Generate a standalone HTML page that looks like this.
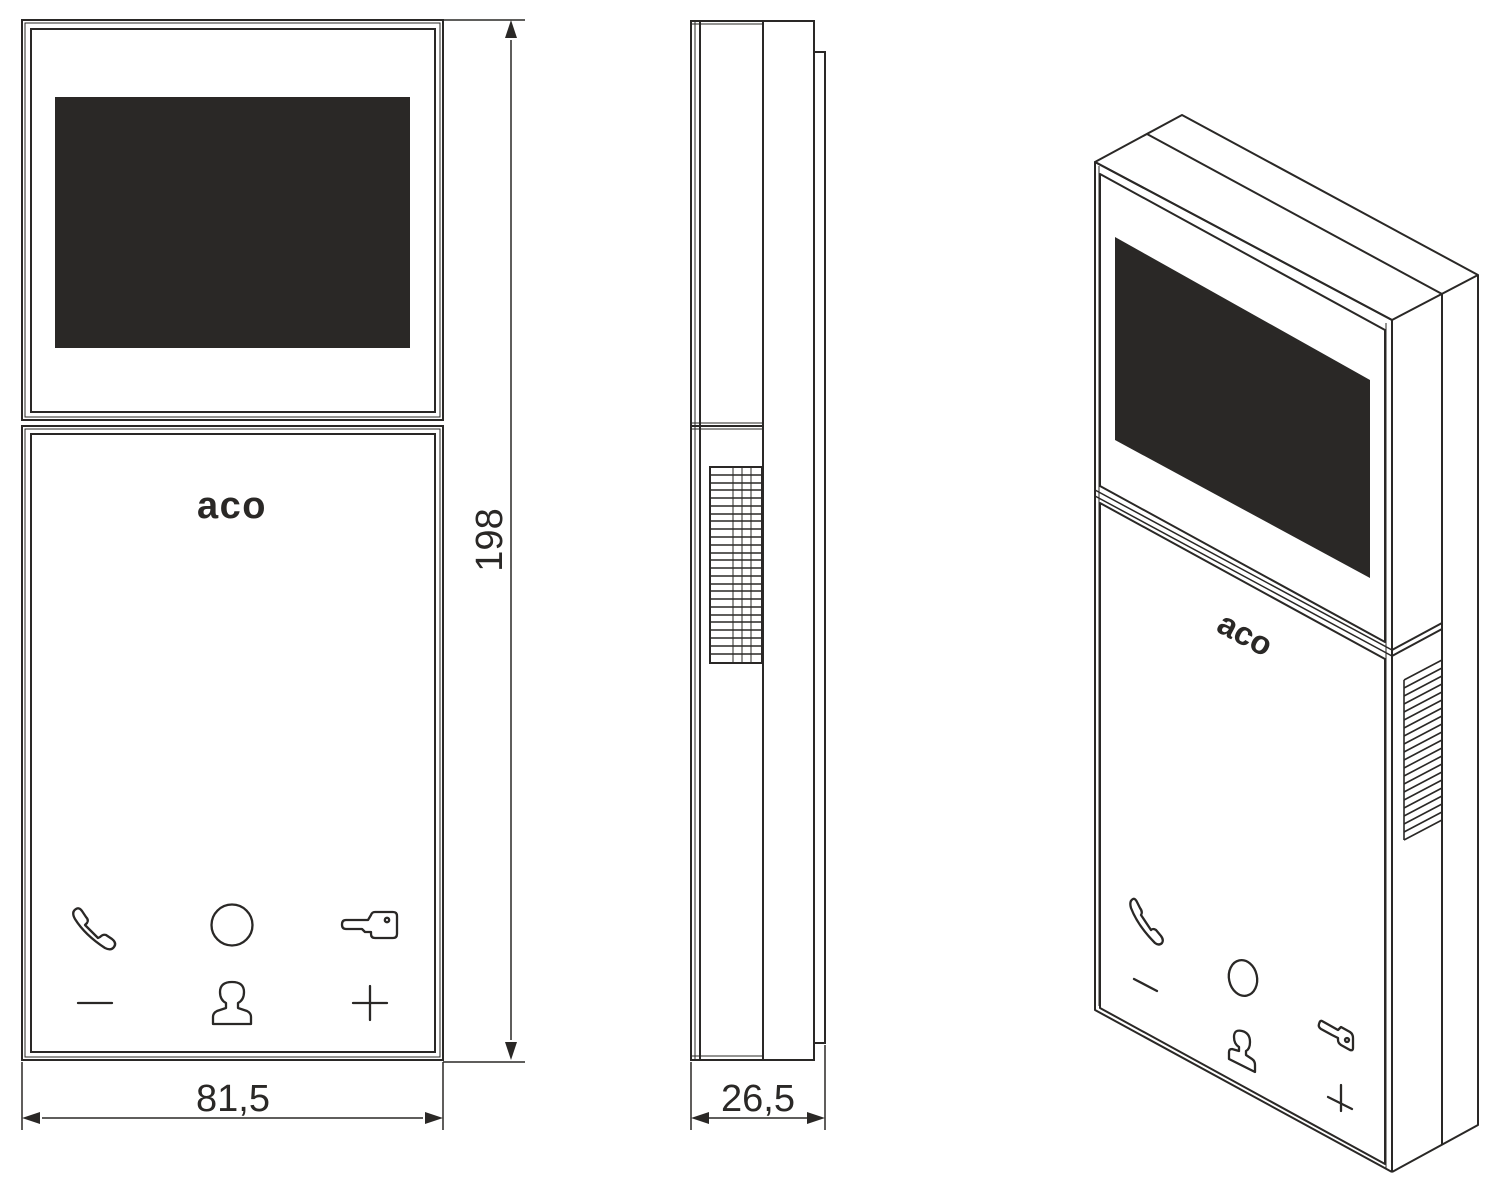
<!DOCTYPE html>
<html><head><meta charset="utf-8"><style>
html,body{margin:0;padding:0;background:#fff;}
svg{display:block;}
text{font-family:"Liberation Sans",Arial,sans-serif;fill:#2a2826;}
</style></head><body>
<svg width="1500" height="1194" viewBox="0 0 1500 1194" xmlns="http://www.w3.org/2000/svg">
<g fill="none" stroke="#2a2826" stroke-width="2">
<!-- FRONT VIEW -->
<rect x="22" y="20" width="421" height="400"/>
<rect x="25" y="23" width="415" height="394" stroke-width="1"/>
<rect x="31" y="29" width="404" height="383"/>
<rect x="22" y="426" width="421" height="634"/>
<rect x="25" y="429" width="415" height="628" stroke-width="1"/>
<rect x="31" y="434" width="404" height="618"/>
</g>
<rect x="55" y="97" width="355" height="251" fill="#2a2826"/>
<text x="232" y="518" font-size="38" font-weight="bold" text-anchor="middle" letter-spacing="1.5">aco</text>
<g fill="none" stroke="#2a2826" stroke-width="2.3" stroke-linecap="round" stroke-linejoin="round">
<path d="M76,909 q-5,3 -1,10 q10,16 30,29 q6,3 9,-1 q3,-4 -2,-8 l-6,-4 q-3,-1 -6,2 l-2,1 l-13,-13 l2,-2 q2,-3 -1,-6 l-4,-6 q-3,-4 -6,-2z"/>
<circle cx="232" cy="925" r="20.5"/>
<path d="M346,920 h22 l3,-5 q1,-3 4,-3 h18 q4,0 4,4 v18 q0,4 -4,4 h-18 q-4,0 -4,-4 v-2 h-6 l-3,-3 h-16 q-4,0 -4,-4.5 q0,-4.5 4,-4.5z"/>
<circle cx="387" cy="920" r="2.2"/>
<line x1="78" y1="1003" x2="112" y2="1003"/>
<path d="M213,1024 v-7 q0,-4 4,-6 l9,-3 v-5 q-6,-3 -6,-11 q0,-10 12,-10 q12,0 12,10 q0,8 -6,11 v5 l9,3 q4,2 4,6 v7 z"/>
<line x1="353" y1="1003" x2="387" y2="1003"/>
<line x1="370" y1="986" x2="370" y2="1020"/>
</g>
<g stroke="#2a2826" stroke-width="1.5" fill="none">
<line x1="443" y1="20" x2="525" y2="20"/>
<line x1="443" y1="1062" x2="525" y2="1062"/>
<line x1="511" y1="40" x2="511" y2="1040"/>
<line x1="22" y1="1062" x2="22" y2="1130"/>
<line x1="443" y1="1062" x2="443" y2="1130"/>
<line x1="42" y1="1118" x2="423" y2="1118"/>
</g>
<path d="M511,20 L505,38 L517,38Z M511,1060 L505,1042 L517,1042Z M22,1118 L40,1112 L40,1124Z M443,1118 L425,1112 L425,1124Z" fill="#2a2826"/>
<text x="0" y="0" font-size="38" text-anchor="middle" transform="translate(502,540) rotate(-90)">198</text>
<text x="233" y="1111" font-size="38" text-anchor="middle">81,5</text>

<!-- SIDE VIEW -->
<g fill="none" stroke="#2a2826" stroke-width="2">
<rect x="691" y="21" width="123" height="1039"/>
<line x1="695" y1="21" x2="695" y2="1060" stroke-width="1"/>
<line x1="700" y1="21" x2="700" y2="1060"/>
<line x1="763" y1="21" x2="763" y2="1060"/>
<line x1="691" y1="24" x2="763" y2="24" stroke-width="1"/>
<polyline points="814,52 825,52 825,1043 814,1043"/>
<line x1="691" y1="423" x2="763" y2="423" stroke-width="1"/>
<line x1="691" y1="426" x2="763" y2="426"/>
<line x1="691" y1="429" x2="763" y2="429" stroke-width="1"/>
<line x1="691" y1="1056" x2="763" y2="1056" stroke-width="1"/>
<rect x="710" y="467" width="52" height="196"/>
</g>
<g stroke="#2a2826" stroke-width="1.6">
<line x1="710" y1="475" x2="762" y2="475"/><line x1="710" y1="483" x2="762" y2="483"/>
<line x1="710" y1="490" x2="762" y2="490"/><line x1="710" y1="498" x2="762" y2="498"/>
<line x1="710" y1="506" x2="762" y2="506"/><line x1="710" y1="514" x2="762" y2="514"/>
<line x1="710" y1="521" x2="762" y2="521"/><line x1="710" y1="529" x2="762" y2="529"/>
<line x1="710" y1="537" x2="762" y2="537"/><line x1="710" y1="545" x2="762" y2="545"/>
<line x1="710" y1="553" x2="762" y2="553"/><line x1="710" y1="560" x2="762" y2="560"/>
<line x1="710" y1="568" x2="762" y2="568"/><line x1="710" y1="576" x2="762" y2="576"/>
<line x1="710" y1="584" x2="762" y2="584"/><line x1="710" y1="591" x2="762" y2="591"/>
<line x1="710" y1="599" x2="762" y2="599"/><line x1="710" y1="607" x2="762" y2="607"/>
<line x1="710" y1="615" x2="762" y2="615"/><line x1="710" y1="622" x2="762" y2="622"/>
<line x1="710" y1="630" x2="762" y2="630"/><line x1="710" y1="638" x2="762" y2="638"/>
<line x1="710" y1="646" x2="762" y2="646"/><line x1="710" y1="654" x2="762" y2="654"/>
<line x1="733" y1="467" x2="733" y2="663" stroke-width="1"/>
<line x1="742" y1="467" x2="742" y2="663" stroke-width="1"/>
<line x1="751" y1="467" x2="751" y2="663" stroke-width="1"/>
</g>
<g stroke="#2a2826" stroke-width="1.5" fill="none">
<line x1="691" y1="1062" x2="691" y2="1130"/>
<line x1="825" y1="1045" x2="825" y2="1130"/>
<line x1="709" y1="1118" x2="807" y2="1118"/>
</g>
<path d="M691,1118 L709,1112 L709,1124Z M825,1118 L807,1112 L807,1124Z" fill="#2a2826"/>
<text x="758" y="1111" font-size="38" text-anchor="middle">26,5</text>

<!-- ISO VIEW -->
<g fill="none" stroke="#2a2826" stroke-width="2" stroke-linejoin="round">
<polygon points="1095,162 1182,115 1478,275 1392,320"/>
<line x1="1147" y1="134" x2="1442" y2="294"/>
<polyline points="1478,275 1478,1125 1392,1172"/>
<line x1="1442" y1="294" x2="1442" y2="1145"/>
<line x1="1392" y1="320" x2="1392" y2="1172"/>
<line x1="1386" y1="323" x2="1386" y2="1168" stroke-width="1"/>
<polyline points="1392,320 1095,162 1095,1010 1392,1172"/>
<line x1="1099" y1="166" x2="1099" y2="1006" stroke-width="1"/>
<polygon points="1100,174 1385,330 1385,642 1100,486"/>
<line x1="1095" y1="490" x2="1392" y2="650" stroke-width="1.5"/>
<line x1="1095" y1="496" x2="1392" y2="656" stroke-width="1.5"/>
<polygon points="1100,503 1385,659 1385,1164 1100,1008"/>
<line x1="1392" y1="650" x2="1442" y2="623"/>
<line x1="1392" y1="656" x2="1442" y2="629"/>
</g>
<polygon points="1115,237 1370,380 1370,578 1115,440" fill="#2a2826"/>
<g fill="none" stroke="#2a2826" stroke-width="1.6">
<path d="M1404,680 L1442,660 M1404,688 L1442,668 M1404,696 L1442,676 M1404,704 L1442,684 M1404,712 L1442,692 M1404,720 L1442,700 M1404,728 L1442,708 M1404,736 L1442,716 M1404,744 L1442,724 M1404,752 L1442,732 M1404,760 L1442,740 M1404,768 L1442,748 M1404,776 L1442,756 M1404,784 L1442,764 M1404,792 L1442,772 M1404,800 L1442,780 M1404,808 L1442,788 M1404,816 L1442,796 M1404,824 L1442,804 M1404,832 L1442,812 M1404,840 L1442,820"/>
<line x1="1404" y1="680" x2="1404" y2="840"/>
</g>
<text x="0" y="0" font-size="33" font-weight="bold" text-anchor="middle" transform="translate(1240,644) rotate(28)">aco</text>
<g fill="none" stroke="#2a2826" stroke-width="2.3" stroke-linecap="round" stroke-linejoin="round">
<path d="M1133,899 q-4,2 -2,9 q7,18 24,35 q4,3 7,0 q2,-3 -1,-7 l-5,-6 q-3,-2 -5,0 l-10,-15 q2,-3 -1,-7 l-3,-6 q-2,-4 -4,-3z"/>
<line x1="1134" y1="979" x2="1157" y2="991"/>
<ellipse cx="1243" cy="978" rx="14" ry="18" transform="rotate(-12 1243 978)"/>
<path d="M1229,1059 v-7 q0,-3 3,-3 l7,2 v-4 q-5,-3 -5,-10 q0,-8 8,-6 q8,2 8,11 q0,7 -4,9 v4 l6,4 q3,2 3,6 v7 z"/>
<path d="M1322,1021 l16,9 l3,-3 l9,5 q3,2 3,6 v10 q0,3 -3,2 l-9,-5 q-3,-2 -3,-5 v-2 l-4,-2 l-2,-1 l-11,-6 q-3,-2 -2,-5 q1,-4 3,-3z"/>
<circle cx="1347" cy="1040" r="2"/>
<line x1="1328" y1="1097" x2="1352" y2="1109"/>
<line x1="1341" y1="1085" x2="1341" y2="1111"/>
</g>
</svg>
</body></html>
